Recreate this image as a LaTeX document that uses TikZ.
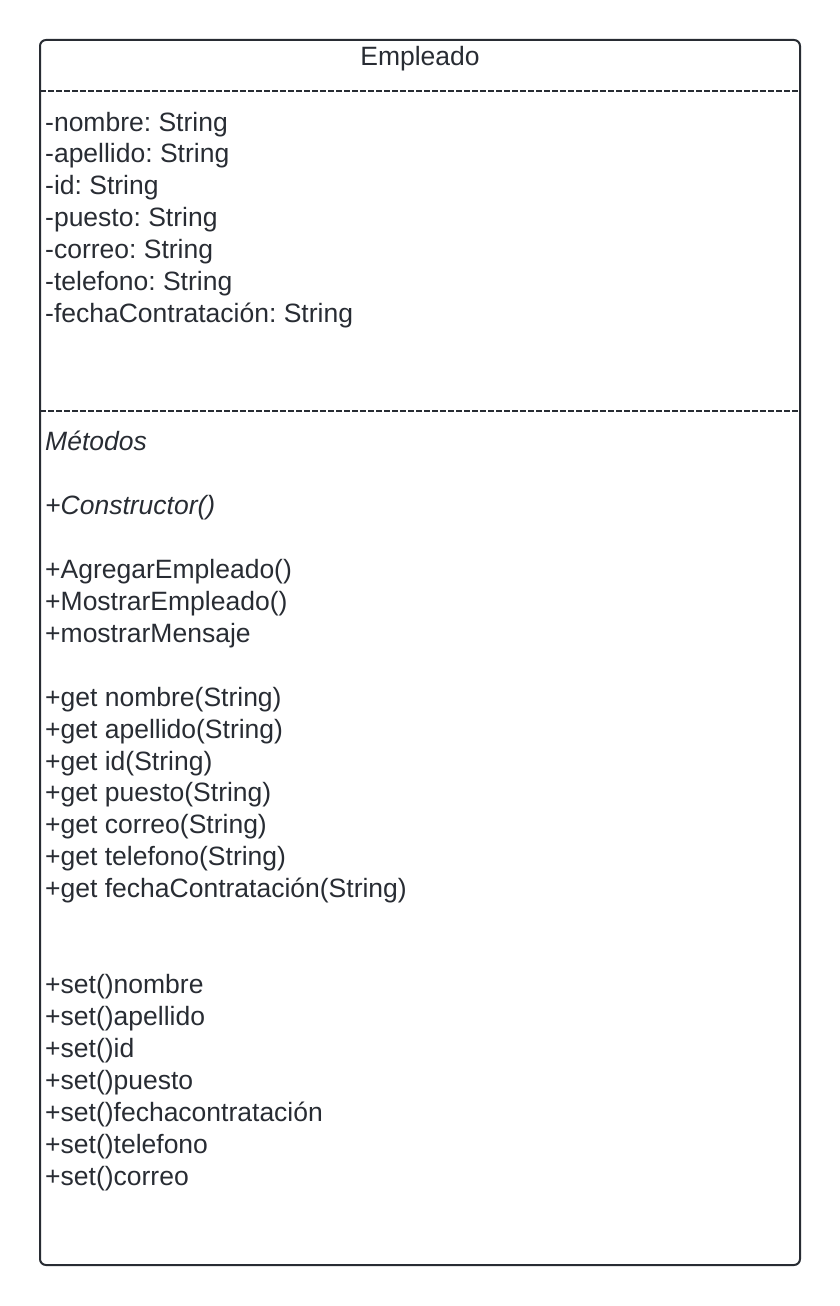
\documentclass[tikz,border=0pt]{standalone}
\usepackage{fontspec}
\setmainfont{Liberation Sans}
\frenchspacing
\definecolor{umlgray}{HTML}{282C33}
\tikzset{
	umlbox/.style={draw=umlgray, line width=2pt, rounded corners=6pt},
	umlsep/.style={draw=umlgray, line width=2.3pt, dash pattern=on 5.5pt off 2.5pt},
	umltext/.style={anchor=base west, inner sep=0pt, text=umlgray, font=\fontsize{26.5}{32}\selectfont},
	umlital/.style={umltext, font=\fontsize{26.5}{32}\selectfont\itshape}
}
\begin{document}
\begin{tikzpicture}[x=1pt,y=-1pt]
		\useasboundingbox (0,0) rectangle (840,1306);
		% class frame
		\draw[umlbox] (40,40) rectangle (800,1265);
		\draw[umlsep] (40,91) -- (800,91);
		\draw[umlsep] (40,411) -- (801,411);
		% class name
		\node[umltext, anchor=base] (nombreClase) at (420,66) {Empleado};
		% attributes
		\foreach \k/\txt in {0/{-nombre: String}, 1/{-apellido: String}, 2/{-id: String},
			3/{-puesto: String}, 4/{-correo: String}, 5/{-telefono: String},
			6/{-fechaContratación: String}}
			\node[umltext] (attr\k) at (45,{131+31.95*\k}) {\txt};
		% methods
		\node[umlital] (metodos) at (45,{131+31.95*10}) {Métodos};
		\node[umlital] (constructor) at (45,{131+31.95*12}) {+Constructor()};
		\foreach \k/\txt in {14/{+AgregarEmpleado()}, 15/{+MostrarEmpleado()}, 16/{+mostrarMensaje},
			18/{+get nombre(String)}, 19/{+get apellido(String)}, 20/{+get id(String)},
			21/{+get puesto(String)}, 22/{+get correo(String)}, 23/{+get telefono(String)},
			24/{+get fechaContratación(String)},
			27/{+set()nombre}, 28/{+set()apellido}, 29/{+set()id}, 30/{+set()puesto},
			31/{+set()fechacontratación}, 32/{+set()telefono}, 33/{+set()correo}}
			\node[umltext] (met\k) at (45,{131+31.95*\k}) {\txt};
	\end{tikzpicture}
\end{document}
